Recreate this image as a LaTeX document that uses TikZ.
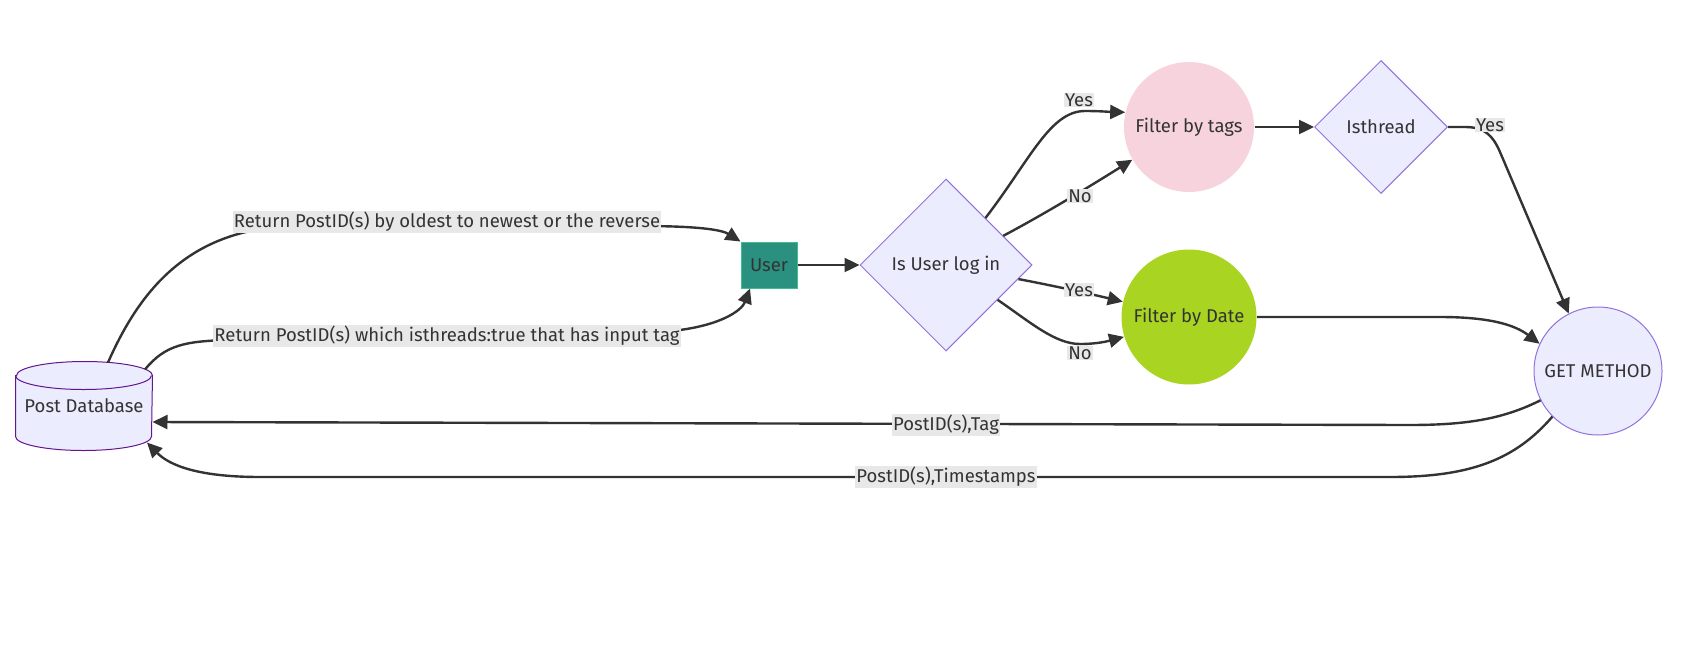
\documentclass[tikz,border=0pt]{standalone}
\usepackage{fontspec}
\setmainfont{Fira Sans}
\usetikzlibrary{arrows.meta, shapes.geometric, calc, backgrounds}
\definecolor{edgegray}{HTML}{333333}
\definecolor{txtgray}{HTML}{333333}
\definecolor{lblbg}{HTML}{E8E8E8}
\definecolor{nodefill}{HTML}{ECECFF}
\definecolor{nodeline}{HTML}{9370DB}
\definecolor{dbline}{HTML}{64148C}
\definecolor{userfill}{HTML}{2A9180}
\definecolor{userline}{HTML}{3DBE8B}
\definecolor{tagfill}{HTML}{F7D4DD}
\definecolor{datefill}{HTML}{A9D421}
\tikzset{
  base/.style={draw=nodeline, fill=nodefill, line width=1pt, text=txtgray,
    font=\fontsize{18.5}{22}\selectfont, inner sep=0pt},
  dbshape/.style={draw=dbline, fill=nodefill, line width=1pt},
  flow/.style={draw=edgegray, line width=2.4pt, -{Triangle[length=15pt,width=14pt]}},
  elabel/.style={fill=lblbg, text=txtgray, font=\fontsize{18.5}{22}\selectfont, inner sep=1pt},
}

\begin{document}
\begin{tikzpicture}[x=1pt, y=-1pt]
\useasboundingbox (0,0) rectangle (1691,648);

\node[base, draw=none, fill=none, minimum width=136, minimum height=88] (db) at (84,406) {Post Database};
\node[base, rectangle, fill=userfill, draw=userline, minimum width=56, minimum height=46] (user) at (769,265) {User};
\node[base, diamond, minimum size=172] (login) at (946,265) {Is User log in};
\node[base, circle, draw=none, fill=tagfill, minimum size=130] (tags) at (1189,127) {Filter by tags};
\node[base, diamond, minimum size=133] (isthr) at (1381,127) {Isthread};
\node[base, circle, draw=none, fill=datefill, minimum size=135] (date) at (1189,317) {Filter by Date};
\node[base, circle, minimum size=128] (get) at (1598,371) {GET METHOD};

\begin{scope}[on background layer]
  \draw[dbshape] ($(db.north west)+(0,14)$) -- ($(db.south west)+(0,-14)$)
    arc[start angle=180, end angle=360, x radius=68pt, y radius=14pt]
    -- ($(db.north east)+(0,14)$)
    arc[start angle=0, end angle=180, x radius=68pt, y radius=14pt] -- cycle;
  \draw[dbshape, fill=none] ($(db.north west)+(0,14)$)
    arc[start angle=180, end angle=360, x radius=68pt, y radius=14pt];
\end{scope}

\coordinate (la) at (447,222);
\coordinate (lb) at (447,336);
\coordinate (lc) at (946,425);
\coordinate (ld) at (946,477);
\coordinate (ya) at (1079,100);
\coordinate (na) at (1080,196);
\coordinate (yb) at (1079,290);
\coordinate (nb) at (1080,353);
\coordinate (yc) at (1490,125);

\draw[flow] ($(db.north)+(24,1)$) .. controls (140,290) and (190,226) .. (300,226)
  -- (640,226) .. controls (700,226) and (722,230) .. (user.north west);
\draw[flow] ($(db.north)+(61,8)$) .. controls (165,345) and (185,341) .. (230,340)
  -- (660,332) .. controls (720,328) and (742,310) .. ($(user.south)+(-19,0)$);
\draw[flow] (user.east) -- (login.west);
\draw[flow] (login.50) .. controls (1030,160) and (1050,111) .. (1085,111)
  .. controls (1100,111) and (1112,112) .. (tags.167);
\draw[flow] (login.27) .. controls (1050,211) and (1100,180) .. (tags.210);
\draw[flow] (login.-11) .. controls (1060,287) and (1095,295) .. (date.167);
\draw[flow] (login.-34) .. controls (1030,322) and (1055,344) .. (1080,344)
  .. controls (1100,344) and (1112,340) .. (date.197);
\draw[flow] (tags.east) -- (isthr.west);
\draw[flow] (isthr.east) -- (1465,127) .. controls (1485,127) and (1493,136) .. (1500,152) -- (get.117);
\draw[flow] (date.east) -- (1440,317) .. controls (1490,317) and (1515,325) .. (get.155);
\draw[flow] (get.207) .. controls (1505,418) and (1470,425) .. (1410,425) -- ($(db.east)+(0,16)$);
\draw[flow] (get.225) .. controls (1515,460) and (1470,477) .. (1390,477)
  -- (260,477) .. controls (200,477) and (170,466) .. ($(db.south)+(63,-8)$);

\node[elabel] at (la) {Return PostID(s) by oldest to newest or the reverse};
\node[elabel] at (lb) {Return PostID(s) which isthreads:true that has input tag};
\node[elabel] at (lc) {PostID(s),Tag};
\node[elabel] at (ld) {PostID(s),Timestamps};
\foreach \p/\t in {ya/Yes, na/No, yb/Yes, nb/No, yc/Yes}
  \node[elabel] at (\p) {\t};
\end{tikzpicture}
\end{document}
